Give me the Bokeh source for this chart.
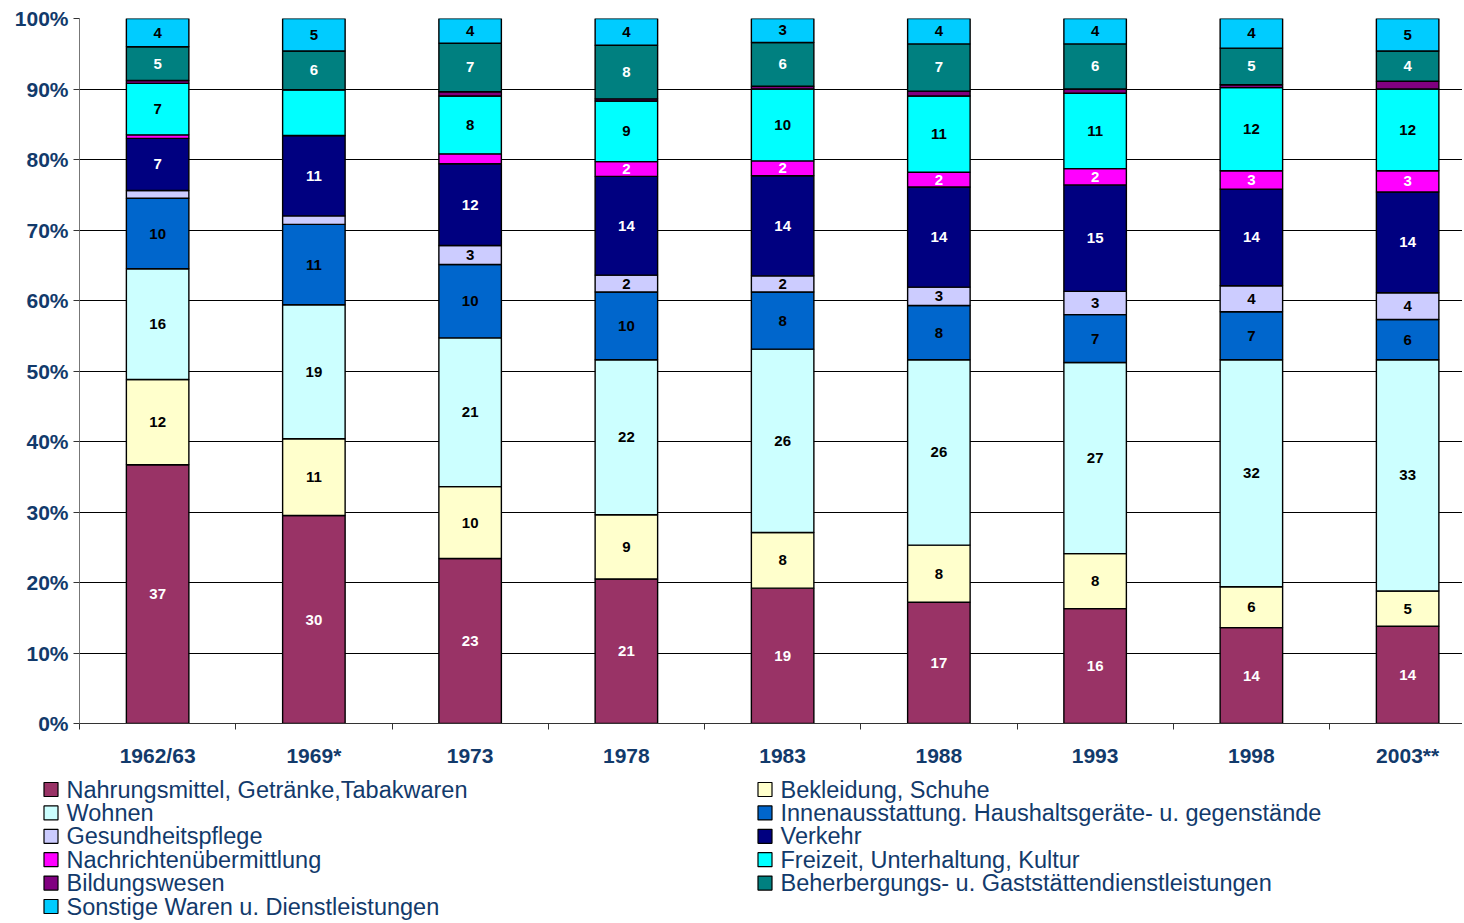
from bokeh.plotting import figure
from bokeh.layouts import column
from bokeh.models import (ColumnDataSource, FixedTicker, Range1d, PrintfTickFormatter)
from bokeh.core.properties import value
from bokeh.embed import file_html
from bokeh.resources import INLINE

years = ["1962/63", "1969*", "1973", "1978", "1983", "1988", "1993", "1998", "2003**"]

series_names = [
    "Nahrungsmittel, Getränke,Tabakwaren",
    "Bekleidung, Schuhe",
    "Wohnen",
    "Innenausstattung. Haushaltsgeräte- u. gegenstände",
    "Gesundheitspflege",
    "Verkehr",
    "Nachrichtenübermittlung",
    "Freizeit, Unterhaltung, Kultur",
    "Bildungswesen",
    "Beherbergungs- u. Gaststättendienstleistungen",
    "Sonstige Waren u. Dienstleistungen",
]

nahrung      = [36.7, 29.5, 23.4, 20.5, 19.2, 17.2, 16.3, 13.6, 13.8]
bekleidung   = [12.1, 10.9, 10.2,  9.1,  7.9,  8.1,  7.8,  5.8,  5.0]
wohnen       = [15.7, 19.0, 21.1, 22.0, 26.0, 26.3, 27.1, 32.2, 32.8]
innen        = [10.0, 11.4, 10.4,  9.6,  8.1,  7.7,  6.8,  6.8,  5.7]
gesundheit   = [ 1.1,  1.2,  2.7,  2.4,  2.3,  2.6,  3.3,  3.7,  3.8]
verkehr      = [ 7.4, 11.4, 11.6, 14.0, 14.2, 14.2, 15.1, 13.7, 14.3]
nachrichten  = [ 0.5,  0.0,  1.4,  2.1,  2.1,  2.1,  2.3,  2.6,  3.0]
freizeit     = [ 7.3,  6.5,  8.2,  8.6, 10.2, 10.8, 10.7, 11.8, 11.6]
bildung      = [ 0.4,  0.0,  0.6,  0.3,  0.4,  0.7,  0.6,  0.4,  1.1]
beherbergung = [ 4.8,  5.5,  6.9,  7.6,  6.2,  6.7,  6.4,  5.2,  4.3]
sonstige     = [ 4.0,  4.6,  3.5,  3.8,  3.4,  3.6,  3.6,  4.2,  4.6]

colors = ["#993366", "#FFFFCC", "#CCFFFF", "#0066CC", "#CCCCFF", "#000080",
          "#FF00FF", "#00FFFF", "#800080", "#008080", "#00CCFF"]
label_colors = ["white", "black", "black", "black", "black", "white",
                "white", "black", "white", "white", "black"]

# segments printed without a number in the original
unlabeled = [("Freizeit, Unterhaltung, Kultur", "1969*")]

NAVY = "#123A6B"
FONT = "Liberation Sans"

values = [nahrung, bekleidung, wohnen, innen, gesundheit, verkehr,
          nachrichten, freizeit, bildung, beherbergung, sonstige]

n = len(years)
totals = [sum(v[i] for v in values) for i in range(n)]
pct = [[v[i] * 100.0 / totals[i] for i in range(n)] for v in values]

xs = [i + 0.5 for i in range(n)]
keys = ["s%d" % k for k in range(len(values))]
data = {"x": xs}
for k, arr in zip(keys, pct):
    data[k] = arr
src = ColumnDataSource(data)

W = 1462
LEFT, TOP, BOTTOM = 79, 18, 50
H1 = 723 + BOTTOM
H2 = 921 - H1

p = figure(width=W, height=H1,
           x_range=Range1d(0, (W - LEFT) / 156.25), y_range=Range1d(0, 100),
           output_backend="svg", toolbar_location=None,
           min_border_left=LEFT, min_border_right=0, min_border_top=TOP,
           min_border_bottom=BOTTOM)
p.outline_line_color = None
p.background_fill_color = "white"

renderers = p.vbar_stack(keys, x="x", width=0.4, source=src,
                         fill_color=colors, line_color="black", line_width=1.4)

# segment labels
lx, ly, lt, lc = [], [], [], []
for i in range(n):
    base = 0.0
    for k, name in enumerate(series_names):
        v = values[k][i]
        h = pct[k][i]
        if v >= 1.5 and (name, years[i]) not in unlabeled:
            lx.append(xs[i])
            ly.append(base + h / 2)
            lt.append(str(int(v + 0.5)))
            lc.append(label_colors[k])
        base += h
lsrc = ColumnDataSource(dict(x=lx, y=ly, t=lt, c=lc))
p.text(x="x", y="y", text="t", text_color="c", source=lsrc,
       text_font=value(FONT), text_font_style="bold", text_font_size="15px",
       text_align="center", text_baseline="middle")

# axes
yt = FixedTicker(ticks=list(range(0, 101, 10)))
p.yaxis.ticker = yt
p.yaxis.formatter = PrintfTickFormatter(format="%d%%")
p.yaxis.major_tick_out = 6
p.yaxis.major_tick_in = 0
p.yaxis.minor_tick_line_color = None
p.yaxis.axis_line_color = "#777777"
p.yaxis.major_tick_line_color = "#333333"
p.yaxis.major_label_standoff = 5
p.yaxis.major_label_text_font = FONT
p.yaxis.major_label_text_font_style = "bold"
p.yaxis.major_label_text_font_size = "21px"
p.yaxis.major_label_text_color = NAVY

p.xaxis.ticker = FixedTicker(ticks=xs, minor_ticks=list(range(0, n)))
p.xaxis.major_label_overrides = {x: y for x, y in zip(xs, years)}
p.xaxis.major_tick_line_color = None
p.xaxis.major_tick_out = 0
p.xaxis.major_tick_in = 0
p.xaxis.minor_tick_out = 6
p.xaxis.minor_tick_in = 0
p.xaxis.minor_tick_line_color = "#333333"
p.xaxis.axis_line_color = "#333333"
p.xaxis.major_label_standoff = 14
p.xaxis.major_label_text_font = FONT
p.xaxis.major_label_text_font_style = "bold"
p.xaxis.major_label_text_font_size = "21px"
p.xaxis.major_label_text_color = NAVY

p.ygrid.ticker = yt
p.ygrid.grid_line_color = "#000000"
p.ygrid.grid_line_width = 1
p.xgrid.grid_line_color = None

# legend panel (two columns, row-major order like the original)
leg = figure(width=W, height=H2, x_range=Range1d(0, W), y_range=Range1d(H2, 0),
             output_backend="svg", toolbar_location=None,
             x_axis_type=None, y_axis_type=None,
             min_border_left=0, min_border_right=0, min_border_top=0,
             min_border_bottom=0)
leg.outline_line_color = None
leg.xgrid.grid_line_color = None
leg.ygrid.grid_line_color = None

col_x = [43, 757]
row_y0, row_dy = 789 - H1, 23.4
sq_x, sq_y, tx_x = [], [], []
for k in range(len(series_names)):
    r, c = divmod(k, 2)
    sq_x.append(col_x[c] + 7.5)
    sq_y.append(row_y0 + r * row_dy)
    tx_x.append(col_x[c] + 23)
lgsrc = ColumnDataSource(dict(x=sq_x, y=sq_y, tx=tx_x, name=series_names, color=colors))
leg.rect(x="x", y="y", width=14, height=14, fill_color="color",
         line_color="black", line_width=1.2, source=lgsrc)
leg.text(x="tx", y="y", text="name", source=lgsrc, text_color=NAVY,
         text_font=value(FONT), text_font_size="23.5px",
         text_align="left", text_baseline="middle")

layout = column(p, column(leg, spacing=0), spacing=0)
open("out.html", "w").write(file_html(layout, INLINE))
